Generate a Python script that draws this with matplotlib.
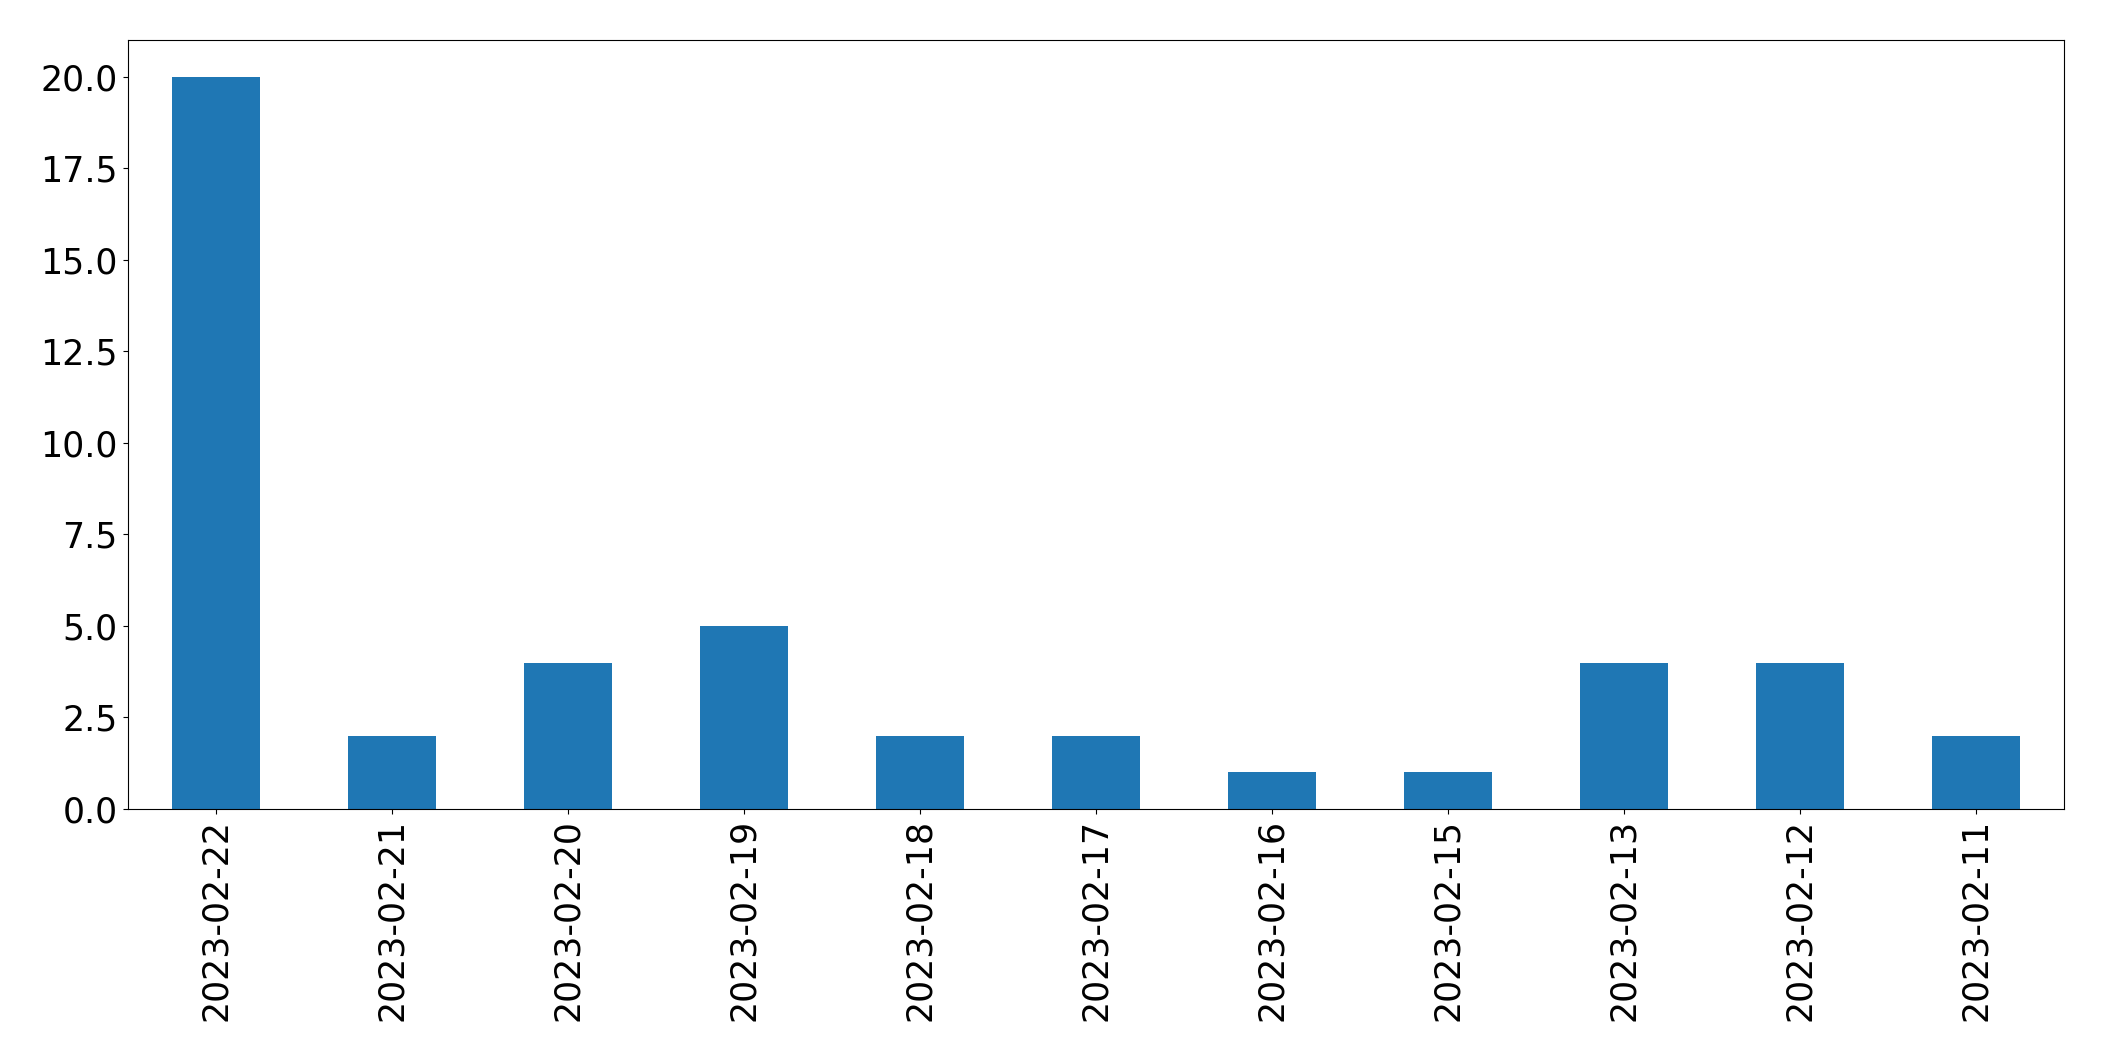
import matplotlib
matplotlib.use("Agg")
import matplotlib.pyplot as plt

dates = ["2023-02-22", "2023-02-21", "2023-02-20", "2023-02-19", "2023-02-18",
         "2023-02-17", "2023-02-16", "2023-02-15", "2023-02-13", "2023-02-12", "2023-02-11"]
counts = [20, 2, 4, 5, 2, 2, 1, 1, 4, 4, 2]

fig = plt.figure(figsize=(21.04, 10.61), dpi=100)
ax = fig.add_axes([127.5/2104, 1 - 809/1061, (2064-127.5)/2104, (809-40)/1061])
x = range(len(dates))
ax.bar(x, counts, width=0.5, color="#1f77b4", linewidth=0)
ax.set_xticks(list(x))
ax.set_xticklabels(dates, rotation=90)
ax.set_xlim(-0.5, len(dates) - 0.5)
ax.set_ylim(0, 21)
ax.tick_params(labelsize=25)
fig.savefig("out.png", dpi=100)
